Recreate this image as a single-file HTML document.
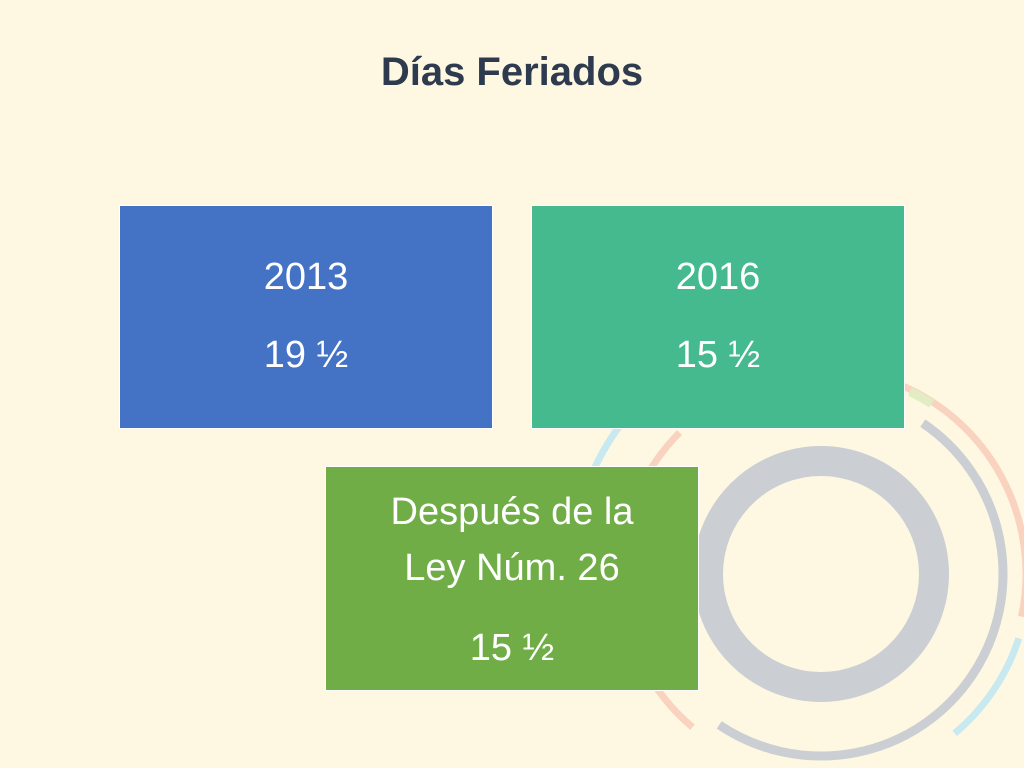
<!DOCTYPE html>
<html><head><meta charset="utf-8"><style>
body{margin:0;width:1024px;height:768px;background:#FEF8E3;position:relative;overflow:hidden;font-family:"Liberation Sans",sans-serif}
.t{position:absolute;left:0;width:1024px;top:50px;text-align:center;font-weight:bold;font-size:40px;color:#2E3B4E}
.b{position:absolute;box-sizing:border-box;border:1px solid #fff;color:#fff;text-align:center;font-size:38px}
.b div{position:absolute;left:0;width:100%}
</style></head><body>
<svg width="1024" height="768" style="position:absolute;left:0;top:0">
<g id="rings" fill="none"></g>
</svg>
<div class="t">Días Feriados</div>
<div class="b" style="left:119px;top:205px;width:374px;height:224px;background:#4472C4">
<div style="top:50px">2013</div><div style="top:128px">19 ½</div></div>
<div class="b" style="left:531px;top:205px;width:374px;height:224px;background:#44BA8E">
<div style="top:50px">2016</div><div style="top:128px">15 ½</div></div>
<div class="b" style="left:325px;top:466px;width:374px;height:225px;background:#70AD47">
<div style="top:24px">Después de la</div><div style="top:80px">Ley Núm. 26</div><div style="top:160px">15 ½</div></div>
<script>
const cx=821,cy=574;
const arcs=[[113,-180,180,30,'#CBCFD3'],[182,-56,124,9,'#CBCFD3'],[205,-68,12,7,'#F9D3C0'],[208,18,50,7,'#C8E9F0'],[203,-64,-57,9,'#E3EDC4'],[200,130,225,7,'#F9D3C0'],[250,205,222,7,'#C8E9F0']];
const g=document.getElementById('rings');
arcs.forEach(a=>{const [r,s,e,w,c]=a;let el;
if(e-s>=360){el=document.createElementNS('http://www.w3.org/2000/svg','circle');el.setAttribute('cx',cx);el.setAttribute('cy',cy);el.setAttribute('r',r);}
else{el=document.createElementNS('http://www.w3.org/2000/svg','path');const p=d=>[cx+r*Math.cos(d*Math.PI/180),cy+r*Math.sin(d*Math.PI/180)];const A=p(s),B=p(e);
el.setAttribute('d',`M${A[0]},${A[1]} A${r},${r} 0 ${e-s>180?1:0} 1 ${B[0]},${B[1]}`);}
el.setAttribute('stroke',c);el.setAttribute('stroke-width',w);


g.appendChild(el);});
</script>
</body></html>
